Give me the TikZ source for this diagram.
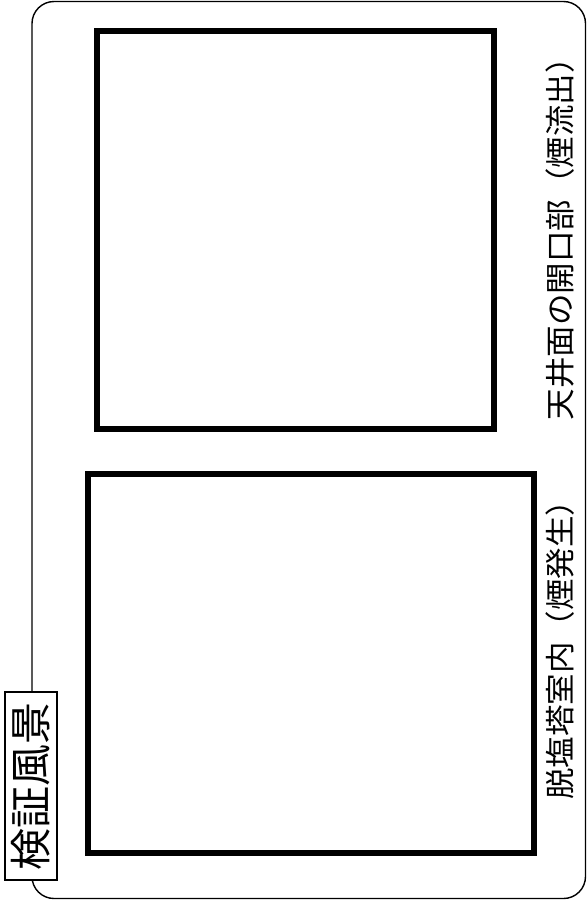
\documentclass[tikz,border=0pt]{standalone}
\usepackage{fontspec}
\newfontfamily\jp{Noto Sans CJK JP}
\begin{document}
\begin{tikzpicture}[x=1pt,y=-1pt,
  frameline/.style={line width=1.4pt, rounded corners=22pt},
  viewbox/.style={draw, line width=6pt},
  caption/.style={rotate=90, font=\jp\fontsize{30}{30}\selectfont, xscale=1.05, inner sep=0pt},
  tabbox/.style={draw, line width=1.3pt, fill=white, rotate=90, inner sep=0pt,
    minimum width=188pt, minimum height=52pt, font=\jp\fontsize{42}{42}\selectfont}]
\useasboundingbox (0,0) rectangle (587,908);
\draw[frameline] (32,1.5) rectangle (585.5,898.5);
\node[viewbox, minimum width=397pt, minimum height=398pt, inner sep=0pt] (top) at (295.5,230) {};
\node[viewbox, minimum width=446pt, minimum height=379pt, inner sep=0pt] (bottom) at (311,663.5) {};
\node[caption] (captop) at (560,231) {天井面の開口部（煙流出）};
\node[caption] (capbot) at (560,642) {脱塩塔室内（煙発生）};
\node[tabbox] (tab) at (31,786) {検証風景};
\end{tikzpicture}
\end{document}
